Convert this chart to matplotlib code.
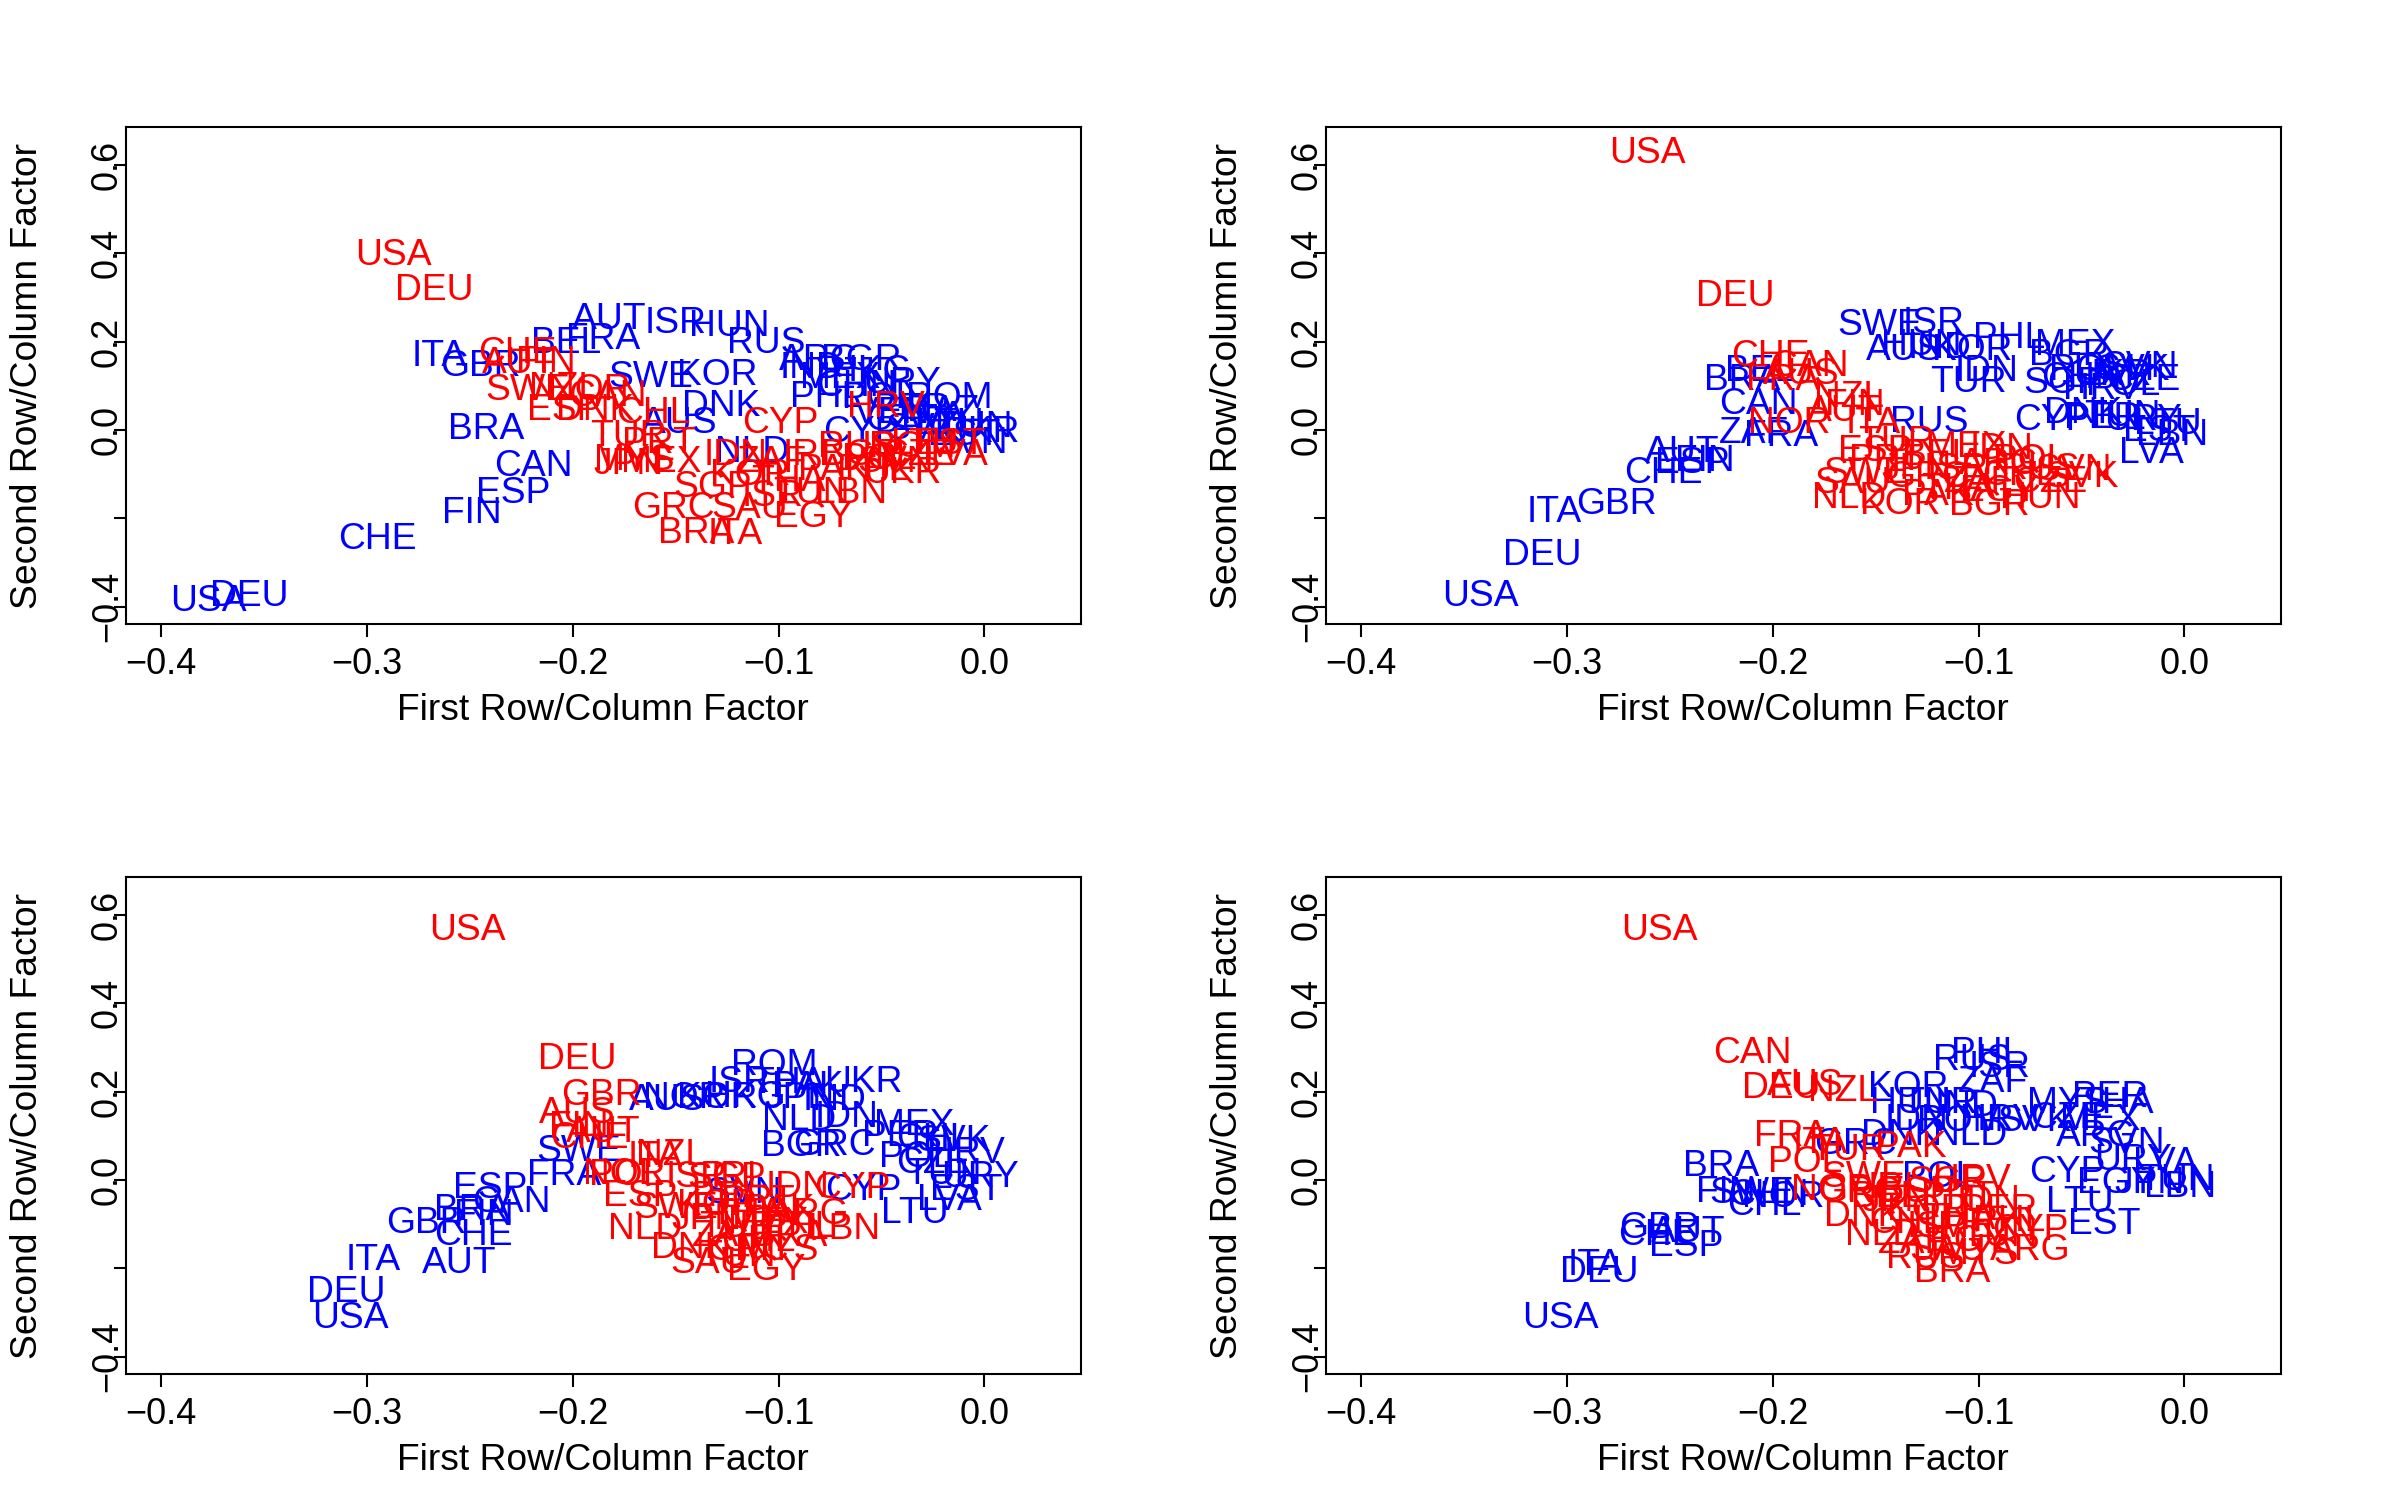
import numpy as np
import matplotlib
matplotlib.use("Agg")
import matplotlib.pyplot as plt
from matplotlib.transforms import offset_copy

plt.rcParams['font.family'] = ['Liberation Sans', 'DejaVu Sans']

# ---- panel 1 (top left) ----
p1_blue_codes = ["USA", "DEU", "CHE", "FIN", "ESP", "CAN", "BRA", "ITA", "GBR", "BEL",
                 "FRA", "AUT", "ISR", "HUN", "RUS", "SWE", "KOR", "DNK", "AUS", "ARG",
                 "IND", "BGR", "PHL", "CHN", "URY", "POL", "ROM", "CYP", "NLD", "UKR",
                 "LVA", "LTU", "EST", "SVN", "SVK", "CZE", "TUN", "KAZ", "PER", "VEN",
                 "MEX", "HKG"]
p1_blue_x = [-0.377, -0.357, -0.295, -0.249, -0.229, -0.219, -0.242, -0.265, -0.245, -0.203,
             -0.185, -0.182, -0.150, -0.124, -0.106, -0.162, -0.130, -0.128, -0.148, -0.080,
             -0.084, -0.060, -0.077, -0.062, -0.040, -0.051, -0.017, -0.060, -0.113, -0.002,
             -0.025, -0.017, -0.010, -0.007, -0.030, -0.040, -0.005, -0.020, -0.035, -0.045,
             -0.070, -0.055]
p1_blue_y = [-0.379, -0.368, -0.239, -0.180, -0.135, -0.073, 0.010, 0.176, 0.152, 0.204,
             0.214, 0.259, 0.249, 0.242, 0.204, 0.128, 0.131, 0.062, 0.024, 0.166,
             0.148, 0.166, 0.083, 0.107, 0.114, 0.079, 0.079, 0.003, -0.043, 0.003,
             0.038, 0.020, -0.003, -0.023, 0.010, 0.030, 0.015, 0.050, 0.055, 0.045,
             0.125, 0.140]
p1_red_codes = ["USA", "DEU", "CHE", "AUT", "FIN", "SWE", "NZL", "NOR", "CAN", "ESP",
                "DNK", "CHL", "TUR", "PRT", "JPN", "MYS", "MEX", "SGP", "GRC", "BRA",
                "ITA", "EGY", "IDN", "ZAF", "IRL", "KOR", "THA", "PAK", "PHL", "ISR",
                "TUN", "LBN", "SAU", "HRV", "CYP", "EST", "CZE", "SVN", "LVA", "LTU",
                "RUS", "POL", "ROM", "BGR", "UKR"]
p1_red_x = [-0.287, -0.267, -0.227, -0.226, -0.213, -0.222, -0.204, -0.192, -0.183, -0.204,
            -0.189, -0.161, -0.173, -0.158, -0.173, -0.170, -0.157, -0.132, -0.151, -0.140,
            -0.121, -0.083, -0.121, -0.103, -0.084, -0.114, -0.095, -0.073, -0.054, -0.103,
            -0.084, -0.065, -0.114, -0.048, -0.099, -0.017, -0.032, -0.043, -0.014, -0.029,
            -0.062, -0.051, -0.035, -0.060, -0.040]
p1_red_y = [0.404, 0.324, 0.181, 0.158, 0.162, 0.098, 0.102, 0.098, 0.085, 0.053,
            0.053, 0.045, -0.007, -0.021, -0.070, -0.060, -0.066, -0.122, -0.170, -0.225,
            -0.229, -0.189, -0.049, -0.066, -0.049, -0.094, -0.108, -0.083, -0.083, -0.142,
            -0.135, -0.135, -0.170, 0.060, 0.023, -0.025, -0.049, -0.066, -0.049, -0.025,
            -0.032, -0.059, -0.030, -0.050, -0.090]

# ---- panel 2 (top right) ----
p2_blue_codes = ["USA", "DEU", "ITA", "GBR", "CHE", "AUT", "ESP", "FIN", "ZAF", "FRA",
                 "CAN", "BRA", "BEL", "SWE", "ISR", "PHL", "MEX", "AUS", "IND", "KOR",
                 "HUN", "BGR", "TUR", "IDN", "SGP", "CYP", "DNK", "RUS", "LVA", "ROM",
                 "UKR", "SVK", "CZE", "POL", "HRV", "SVN", "CHN", "LTU", "EST", "URY",
                 "LBN", "TUN", "PER"]
p2_blue_x = [-0.342, -0.312, -0.306, -0.276, -0.253, -0.244, -0.239, -0.233, -0.209, -0.196,
             -0.207, -0.215, -0.206, -0.148, -0.122, -0.085, -0.053, -0.136, -0.119, -0.103,
             -0.128, -0.056, -0.105, -0.096, -0.059, -0.064, -0.049, -0.124, -0.016, -0.045,
             -0.035, -0.025, -0.020, -0.030, -0.040, -0.022, -0.050, -0.008, -0.012, -0.020,
             -0.006, -0.030, -0.040]
p2_blue_y = [-0.368, -0.276, -0.179, -0.160, -0.091, -0.042, -0.068, -0.062, 0.000, -0.007,
             0.066, 0.121, 0.142, 0.245, 0.249, 0.215, 0.200, 0.189, 0.192, 0.188,
             0.200, 0.177, 0.117, 0.140, 0.113, 0.030, 0.045, 0.026, -0.045, 0.143,
             0.132, 0.143, 0.120, 0.110, 0.100, 0.151, 0.125, 0.020, 0.005, 0.030,
             -0.005, 0.040, 0.035]
p2_red_codes = ["USA", "DEU", "CHE", "CAN", "FRA", "AUS", "NZL", "NOR", "ITA", "AUT",
                "FIN", "MEX", "IDN", "NLD", "KOR", "BGR", "HUN", "SVN", "SVK", "SAU",
                "ESP", "PRT", "TUR", "JPN", "SWE", "BEL", "GRC", "ISR", "ZAF", "ARG",
                "CHL", "POL", "CZE", "THA", "EGY", "RUS", "PAK"]
p2_red_x = [-0.261, -0.218, -0.201, -0.182, -0.195, -0.186, -0.163, -0.192, -0.151, -0.165,
            -0.160, -0.106, -0.089, -0.163, -0.138, -0.095, -0.070, -0.054, -0.050, -0.161,
            -0.150, -0.145, -0.140, -0.130, -0.155, -0.120, -0.125, -0.110, -0.100, -0.090,
            -0.080, -0.075, -0.065, -0.110, -0.090, -0.070, -0.120]
p2_red_y = [0.634, 0.310, 0.174, 0.152, 0.121, 0.135, 0.083, 0.023, 0.023, 0.050,
            0.065, -0.030, -0.035, -0.147, -0.160, -0.162, -0.147, -0.083, -0.098, -0.113,
            -0.040, -0.060, -0.020, -0.080, -0.090, -0.050, -0.100, -0.080, -0.110, -0.070,
            -0.095, -0.060, -0.110, -0.125, -0.130, -0.080, -0.140]

# ---- panel 3 (bottom left) ----
p3_blue_codes = ["USA", "DEU", "ITA", "AUT", "CHE", "GBR", "FIN", "BRA", "CAN", "ESP",
                 "FRA", "SWE", "AUS", "NOR", "KOR", "HKG", "ISR", "ROM", "THA", "PAK",
                 "UKR", "JPN", "IND", "NLD", "IDN", "BGR", "GRC", "MEX", "PER", "CHL",
                 "SVK", "HRV", "POL", "CZE", "URY", "SVN", "CYP", "LTU", "LVA", "EST",
                 "TUN"]
p3_blue_x = [-0.308, -0.310, -0.297, -0.255, -0.248, -0.271, -0.243, -0.249, -0.230, -0.240,
             -0.204, -0.197, -0.154, -0.146, -0.130, -0.116, -0.119, -0.102, -0.095, -0.086,
             -0.059, -0.090, -0.073, -0.090, -0.067, -0.089, -0.073, -0.034, -0.041, -0.025,
             -0.015, -0.009, -0.033, -0.025, -0.002, -0.117, -0.059, -0.034, -0.017, -0.009,
             -0.020]
p3_blue_y = [-0.306, -0.245, -0.174, -0.181, -0.117, -0.091, -0.072, -0.060, -0.043, -0.011,
             0.019, 0.074, 0.189, 0.192, 0.192, 0.195, 0.230, 0.268, 0.226, 0.218,
             0.230, 0.192, 0.189, 0.143, 0.151, 0.085, 0.087, 0.132, 0.106, 0.101,
             0.096, 0.068, 0.060, 0.045, 0.015, -0.023, -0.015, -0.068, -0.038, -0.015,
             0.020]
p3_red_codes = ["USA", "DEU", "GBR", "AUS", "FIN", "CHE", "AUT", "NOR", "NZL", "ITA",
                "POL", "ESP", "NLD", "SWE", "ISR", "SGP", "IRL", "IDN", "CYP", "LBN",
                "EGY", "SAU", "DNK", "KOR", "THA", "PAK", "TUR", "MEX", "BRA", "CHL",
                "ZAF", "GRC", "PHL", "ARG", "JPN", "BEL", "PRT", "MYS", "TUN"]
p3_red_x = [-0.251, -0.198, -0.186, -0.198, -0.197, -0.192, -0.185, -0.175, -0.152, -0.160,
            -0.174, -0.167, -0.165, -0.150, -0.140, -0.125, -0.119, -0.091, -0.064, -0.068,
            -0.106, -0.134, -0.143, -0.130, -0.115, -0.100, -0.120, -0.105, -0.095, -0.110,
            -0.125, -0.115, -0.090, -0.085, -0.135, -0.125, -0.110, -0.100, -0.120]
p3_red_y = [0.574, 0.282, 0.200, 0.159, 0.128, 0.102, 0.115, 0.022, 0.064, 0.060,
            0.019, -0.028, -0.103, -0.057, 0.015, 0.012, 0.015, -0.008, -0.011, -0.103,
            -0.196, -0.181, -0.147, -0.050, -0.070, -0.060, -0.100, -0.090, -0.120, -0.130,
            -0.120, -0.150, -0.100, -0.070, -0.080, -0.030, -0.040, -0.150, -0.165]

# ---- panel 4 (bottom right) ----
p4_blue_codes = ["USA", "DEU", "ITA", "GBR", "CHE", "AUT", "ESP", "BRA", "FIN", "SWE",
                 "CHN", "CHL", "NOR", "RUS", "PHL", "ISR", "ZAF", "KOR", "HUN", "TUR",
                 "IND", "NLD", "DNK", "IDN", "ROM", "HRV", "SVK", "CZE", "MEX", "PER",
                 "MYS", "THA", "ARG", "SVN", "URY", "LVA", "TUN", "JPN", "EGY", "LBN",
                 "CYP", "LTU", "EST", "POL", "GRC"]
p4_blue_x = [-0.303, -0.284, -0.286, -0.255, -0.256, -0.241, -0.242, -0.225, -0.223, -0.210,
             -0.202, -0.204, -0.195, -0.103, -0.096, -0.090, -0.093, -0.134, -0.133, -0.119,
             -0.106, -0.104, -0.138, -0.130, -0.109, -0.090, -0.073, -0.057, -0.041, -0.036,
             -0.057, -0.033, -0.043, -0.028, -0.025, -0.009, -0.004, -0.017, -0.033, -0.002,
             -0.057, -0.051, -0.039, -0.119, -0.160]
p4_blue_y = [-0.306, -0.200, -0.185, -0.102, -0.117, -0.111, -0.143, 0.040, -0.020, -0.023,
             -0.026, -0.049, -0.030, 0.279, 0.294, 0.264, 0.229, 0.219, 0.181, 0.181,
             0.174, 0.109, 0.109, 0.143, 0.140, 0.143, 0.140, 0.147, 0.143, 0.196,
             0.181, 0.181, 0.106, 0.091, 0.053, 0.045, 0.008, 0.000, 0.000, -0.008,
             0.026, -0.042, -0.092, 0.015, 0.090]
p4_red_codes = ["USA", "CAN", "DEU", "AUS", "NZL", "FRA", "ITA", "TUR", "PAK", "POL",
                "NOR", "SGP", "HRV", "CYP", "ARG", "BRA", "RUS", "NLD", "ZAF", "DNK",
                "PER", "SWE", "GRC", "JPN", "KOR", "THA", "MEX", "ISR", "CHL", "BEL",
                "ESP", "PRT", "IDN", "EGY", "TUN", "SAU", "MYS", "PHL", "IRL"]
p4_red_x = [-0.255, -0.210, -0.196, -0.184, -0.166, -0.191, -0.177, -0.163, -0.133, -0.184,
            -0.171, -0.115, -0.103, -0.075, -0.075, -0.113, -0.126, -0.147, -0.132, -0.156,
            -0.090, -0.156, -0.158, -0.140, -0.125, -0.110, -0.100, -0.120, -0.135, -0.145,
            -0.130, -0.110, -0.095, -0.105, -0.090, -0.115, -0.100, -0.085, -0.140]
p4_red_y = [0.574, 0.294, 0.215, 0.222, 0.208, 0.106, 0.091, 0.076, 0.083, 0.048,
            -0.015, 0.004, 0.007, -0.106, -0.151, -0.200, -0.170, -0.117, -0.136, -0.075,
            -0.060, 0.015, -0.019, -0.040, -0.060, -0.080, -0.100, -0.100, -0.090, -0.030,
            -0.020, -0.030, -0.040, -0.130, -0.120, -0.150, -0.160, -0.085, -0.010]

panels = [
    (p1_blue_codes, p1_blue_x, p1_blue_y, p1_red_codes, p1_red_x, p1_red_y),
    (p2_blue_codes, p2_blue_x, p2_blue_y, p2_red_codes, p2_red_x, p2_red_y),
    (p3_blue_codes, p3_blue_x, p3_blue_y, p3_red_codes, p3_red_x, p3_red_y),
    (p4_blue_codes, p4_blue_x, p4_blue_y, p4_red_codes, p4_red_x, p4_red_y),
]

fig = plt.figure(figsize=(24, 15), dpi=100)
corners = [(0.0523, 0.5838), (0.5523, 0.5838), (0.0523, 0.0838), (0.5523, 0.0838)]
w, h = 0.3981, 0.3313
fs = 26.8

for (left, bottom), (bc, bx, by, rc, rx, ry) in zip(corners, panels):
    ax = fig.add_axes([left, bottom, w, h])
    ax.set_xlim(-0.4172, 0.0469)
    ax.set_ylim(-0.44, 0.685)
    # text is centred on the cap height, like R's text()
    trans = offset_copy(ax.transData, fig=fig, y=-13.35, units='dots')
    for c, x, y in zip(bc, bx, by):
        ax.text(x, y, c, color='#0000FF', fontsize=fs, ha='center', va='baseline',
                transform=trans, clip_on=True)
    for c, x, y in zip(rc, rx, ry):
        ax.text(x, y, c, color='#FF0000', fontsize=fs, ha='center', va='baseline',
                transform=trans, clip_on=True)

    for s in ax.spines.values():
        s.set_linewidth(1.5)
    ax.set_xticks([-0.4, -0.3, -0.2, -0.1, 0.0])
    ax.set_yticks([-0.4, -0.2, 0.0, 0.2, 0.4, 0.6])
    ax.set_yticklabels(['\u22120.4', '', '0.0', '0.2', '0.4', '0.6'])
    ax.tick_params(axis='both', direction='out', length=9, width=1.5, labelsize=26)
    ax.tick_params(axis='x', pad=7)
    ax.tick_params(axis='y', pad=-8.5)
    plt.setp(ax.get_yticklabels(), rotation=90, va='center')

    xc = left + w / 2
    fig.text(xc, bottom - 0.0638, 'First Row/Column Factor', fontsize=fs,
             ha='center', va='baseline')
    fig.text(left - 0.0370, bottom + h / 2, 'Second Row/Column Factor', fontsize=fs,
             rotation=90, rotation_mode='anchor', ha='center', va='baseline')

fig.savefig('out.png', dpi=100)
